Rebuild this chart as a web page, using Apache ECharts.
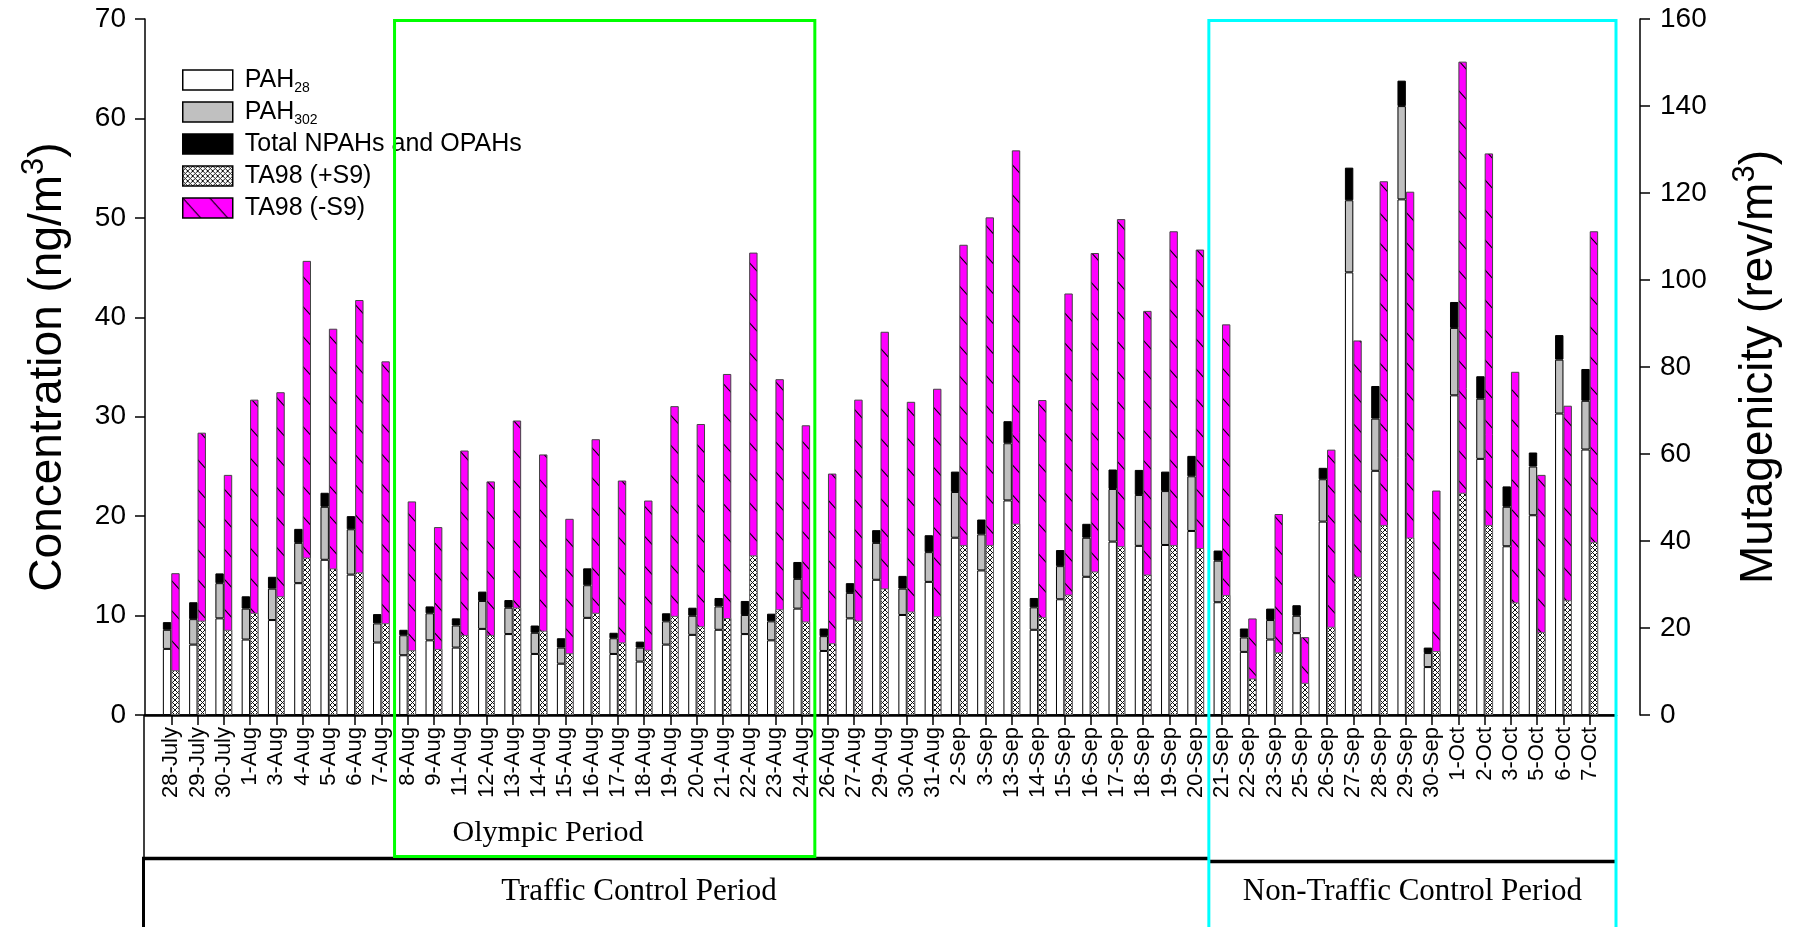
<!DOCTYPE html>
<html>
<head>
<meta charset="utf-8">
<script src="https://cdn.jsdelivr.net/npm/echarts/dist/echarts.min.js"></script>
<style>
  html, body { margin: 0; padding: 0; background: #ffffff; }
  #chart { width: 1796px; height: 927px; }
</style>
</head>
<body>
<div id="chart"></div>
<script>
// Sampling dates (Beijing, 2008)
const categories = [
  '28-July','29-July','30-July','1-Aug','3-Aug','4-Aug','5-Aug','6-Aug','7-Aug',
  '8-Aug','9-Aug','11-Aug','12-Aug','13-Aug','14-Aug','15-Aug','16-Aug','17-Aug','18-Aug',
  '19-Aug','20-Aug','21-Aug','22-Aug','23-Aug','24-Aug',
  '26-Aug','27-Aug','29-Aug','30-Aug','31-Aug','2-Sep','3-Sep','13-Sep','14-Sep','15-Sep',
  '16-Sep','17-Sep','18-Sep','19-Sep','20-Sep',
  '21-Sep','22-Sep','23-Sep','25-Sep','26-Sep','27-Sep','28-Sep','29-Sep','30-Sep',
  '1-Oct','2-Oct','3-Oct','5-Oct','6-Oct','7-Oct'
];

// Concentrations, ng/m3 (stacked)
const pah28 = [
  6.65, 7.08, 9.72, 7.59, 9.55, 13.26, 15.61, 14.12, 7.29,
  6.01, 7.51, 6.78, 8.66, 8.14, 6.14, 5.16, 9.77, 6.14, 5.37, 7.08, 8.06, 8.57, 8.14, 7.51, 10.70,
  6.44, 9.72, 13.60, 10.06, 13.39, 17.83, 14.54, 21.58, 8.57, 11.64, 13.90, 17.44, 17.01, 17.10, 18.51,
  11.34, 6.35, 7.59, 8.23, 19.45, 44.52, 24.56, 51.86, 4.82, 32.15, 25.76, 16.97, 20.09, 30.32, 26.70
];
const pah302 = [
  1.92, 2.56, 3.54, 3.11, 3.16, 4.05, 5.33, 4.56, 1.92,
  2.01, 2.72, 2.22, 2.81, 2.65, 2.13, 1.62, 3.28, 1.58, 1.41, 2.34, 1.92, 2.35, 1.92, 1.91, 2.99,
  1.49, 2.56, 3.71, 2.65, 2.99, 4.60, 3.63, 5.75, 2.26, 3.33, 3.93, 5.29, 5.12, 5.42, 5.50,
  4.18, 1.45, 1.96, 1.75, 4.26, 7.25, 5.25, 9.38, 1.41, 6.78, 6.05, 3.97, 4.90, 5.42, 4.90
];
const npahOpah = [
  0.77, 1.70, 0.98, 1.24, 1.19, 1.41, 1.41, 1.32, 0.94,
  0.55, 0.69, 0.72, 0.94, 0.77, 0.73, 0.94, 1.70, 0.55, 0.60, 0.81, 0.81, 0.85, 1.41, 0.77, 1.70,
  0.77, 0.98, 1.28, 1.28, 1.70, 2.05, 1.49, 2.22, 0.94, 1.62, 1.40, 1.96, 2.52, 1.96, 2.05,
  1.02, 0.90, 1.15, 1.06, 1.15, 3.28, 3.28, 2.56, 0.55, 2.61, 2.26, 2.05, 1.41, 2.47, 3.20
];

// Mutagenicity, rev/m3
const ta98Plus = [
  10.3, 21.7, 19.6, 23.5, 27.3, 36.2, 33.7, 32.8, 21.1,
  14.9, 15.2, 18.4, 18.4, 24.7, 19.4, 14.2, 23.5, 16.7, 15.0, 22.8, 20.4, 22.3, 36.7, 24.3, 21.5,
  16.5, 21.7, 29.1, 23.8, 22.7, 39.1, 39.1, 44.0, 22.5, 27.7, 33.0, 38.8, 32.3, 39.1, 38.4,
  27.6, 8.4, 14.4, 7.4, 20.3, 31.8, 43.7, 40.8, 14.7, 51.1, 43.7, 25.9, 19.1, 26.4, 39.8
];
const ta98Minus = [
  32.6, 64.9, 55.2, 72.5, 74.2, 104.4, 88.8, 95.4, 81.3,
  49.1, 43.2, 60.8, 53.7, 67.7, 59.9, 45.1, 63.4, 53.9, 49.3, 71.0, 66.9, 78.4, 106.3, 77.2, 66.6,
  55.5, 72.5, 88.1, 72.0, 75.0, 108.1, 114.4, 129.8, 72.4, 96.9, 106.2, 114.0, 92.9, 111.2, 107.0,
  89.8, 22.2, 46.2, 17.9, 61.0, 86.1, 122.7, 120.3, 51.6, 150.2, 129.1, 78.9, 55.2, 71.1, 111.2
];

// Axis tick values
const concTicks = [0, 10, 20, 30, 40, 50, 60, 70];
const mutTicks = [0, 20, 40, 60, 80, 100, 120, 140, 160];

// Period annotations
const olympicPeriod = { label: 'Olympic Period', first: '8-Aug', last: '24-Aug' };
const trafficPeriod = { label: 'Traffic Control Period', first: '28-July', last: '20-Sep' };
const nonTrafficPeriod = { label: 'Non-Traffic Control Period', first: '21-Sep', last: '7-Oct' };

// Padded category list: one empty slot at each end of the axis
const axisCats = [''].concat(categories, [' ']);
const pairs = arr => categories.map((c, i) => [c, arr[i]]);

const SANS = '"Liberation Sans", Arial, sans-serif';
const SERIF = '"Liberation Serif", "Times New Roman", serif';
const BAR_W = 8.4;

function slashFill() {
  const w = 27, h = 30;
  const c = document.createElement('canvas');
  c.width = w; c.height = h;
  const g = c.getContext('2d');
  g.fillStyle = '#FF00FF';
  g.fillRect(0, 0, w, h);
  g.strokeStyle = '#000';
  g.lineWidth = 1.1;
  for (const dx of [-w, 0, w]) {
    g.beginPath();
    g.moveTo(dx - 3, -3 * h / w);
    g.lineTo(dx + w + 3, h + 3 * h / w);
    g.stroke();
  }
  return c;
}

function crossFill() {
  const s = 5;
  const c = document.createElement('canvas');
  c.width = s; c.height = s;
  const g = c.getContext('2d');
  g.fillStyle = '#ffffff';
  g.fillRect(0, 0, s, s);
  g.strokeStyle = '#111';
  g.lineWidth = 1;
  g.beginPath();
  g.moveTo(-1, -1); g.lineTo(s + 1, s + 1);
  g.moveTo(s + 1, -1); g.lineTo(-1, s + 1);
  g.stroke();
  return c;
}

const minusPattern = { image: slashFill(), repeat: 'repeat' };
const plusPattern = { image: crossFill(), repeat: 'repeat' };

const legendNames = {
  'PAH28': 'PAH{s|28}',
  'PAH302': 'PAH{s|302}'
};

const chart = echarts.init(document.getElementById('chart'), null, { renderer: 'canvas' });

const concBar = (name, arr, color) => ({
  name, type: 'bar', xAxisIndex: 0, yAxisIndex: 0, stack: 'conc',
  barWidth: BAR_W, barGap: '0%',
  itemStyle: { color, borderColor: '#000', borderWidth: 1 },
  data: pairs(arr)
});
const slot = (xi, yi) => ({
  type: 'bar', xAxisIndex: xi, yAxisIndex: yi, barWidth: BAR_W, barGap: '0%', data: [], silent: true
});

const titleStyle = {
  fontFamily: SANS, fontSize: 46, color: '#000', lineHeight: 58,
  rich: { sup: { fontFamily: SANS, fontSize: 31, lineHeight: 31, verticalAlign: 'top', color: '#000' } }
};

const option = {
  animation: false,
  backgroundColor: '#ffffff',
  grid: { left: 145, right: 180, top: 19, bottom: 212, containLabel: false },
  legend: {
    left: 182, top: 65, orient: 'vertical', padding: 0,
    itemWidth: 50, itemHeight: 20, itemGap: 2, icon: 'rect',
    selectedMode: false,
    data: ['PAH28', 'PAH302', 'Total NPAHs and OPAHs', 'TA98 (+S9)', 'TA98 (-S9)'],
    formatter: n => legendNames[n] || n,
    textStyle: {
      fontFamily: SANS, fontSize: 25, color: '#000', lineHeight: 30, padding: [0, 0, 0, 7],
      rich: { s: { fontFamily: SANS, fontSize: 14, lineHeight: 14, verticalAlign: 'bottom', color: '#000' } }
    },
    itemStyle: { borderColor: '#000', borderWidth: 1.5 }
  },
  xAxis: [
    {
      type: 'category', data: axisCats, boundaryGap: false, position: 'bottom',
      axisLine: { lineStyle: { color: '#000', width: 2.5 } },
      axisTick: { show: true, length: 10, inside: false, interval: (i, v) => v.trim() !== '', lineStyle: { color: '#000', width: 1.5 } },
      axisLabel: { interval: 0, rotate: 90, margin: 12, fontFamily: SANS, fontSize: 22, color: '#000' },
      splitLine: { show: false }
    },
    {
      type: 'category', data: axisCats, boundaryGap: false, position: 'top',
      axisLine: { show: true, lineStyle: { color: '#000', width: 1.5 } },
      axisTick: { show: false }, axisLabel: { show: false }, splitLine: { show: false }
    },
    {
      type: 'category', data: axisCats, boundaryGap: false, show: false
    }
  ],
  yAxis: [
    {
      type: 'value', position: 'left',
      min: concTicks[0], max: concTicks[concTicks.length - 1], interval: concTicks[1] - concTicks[0],
      axisLine: { show: true, lineStyle: { color: '#000', width: 1.5 } },
      axisTick: { show: true, length: 10, lineStyle: { color: '#000', width: 1.5 } },
      axisLabel: { fontFamily: SANS, fontSize: 28, color: '#000', margin: 19 },
      splitLine: { show: false },
      name: 'Concentration (ng/m{sup|3})', nameLocation: 'middle', nameRotate: 90, nameGap: 68,
      nameTextStyle: titleStyle
    },
    {
      type: 'value', position: 'right', offset: 24,
      min: mutTicks[0], max: mutTicks[mutTicks.length - 1], interval: mutTicks[1] - mutTicks[0],
      axisLine: { show: true, lineStyle: { color: '#000', width: 1.5 } },
      axisTick: { show: true, length: 10, lineStyle: { color: '#000', width: 1.5 } },
      axisLabel: { fontFamily: SANS, fontSize: 28, color: '#000', margin: 20 },
      splitLine: { show: false },
      name: 'Mutagenicity (rev/m{sup|3})', nameLocation: 'middle', nameRotate: 90, nameGap: 90,
      nameTextStyle: titleStyle
    }
  ],
  series: [
    concBar('PAH28', pah28, '#ffffff'),
    concBar('PAH302', pah302, '#c0c0c0'),
    concBar('Total NPAHs and OPAHs', npahOpah, '#000000'),
    slot(0, 0),
    slot(1, 1),
    {
      name: 'TA98 (-S9)', type: 'bar', xAxisIndex: 1, yAxisIndex: 1,
      barWidth: BAR_W, barGap: '0%',
      itemStyle: { color: minusPattern, borderColor: '#444', borderWidth: 1 },
      data: pairs(ta98Minus)
    },
    slot(2, 1),
    {
      name: 'TA98 (+S9)', type: 'bar', xAxisIndex: 2, yAxisIndex: 1,
      barWidth: BAR_W, barGap: '0%',
      itemStyle: { color: plusPattern, borderColor: '#666', borderWidth: 1 },
      data: pairs(ta98Plus)
    }
  ]
};

chart.setOption(option);

// Period boxes, placed from the category axis positions
const px = idx => chart.convertToPixel({ xAxisIndex: 0 }, idx);
const before = name => { const i = axisCats.indexOf(name); return (px(i - 1) + px(i)) / 2; };
const after = name => { const i = axisCats.indexOf(name); return (px(i) + px(i + 1)) / 2; };

const gridL = px(0);
const gridR = px(axisCats.length - 1);
const yTop = chart.convertToPixel({ yAxisIndex: 0 }, concTicks[concTicks.length - 1]);
const yBase = chart.convertToPixel({ yAxisIndex: 0 }, 0);

const olyL = before(olympicPeriod.first);
const olyR = after(olympicPeriod.last);
const ntL = before(nonTrafficPeriod.first);
const bandTop = 858.5;

chart.setOption({
  graphic: [
    { type: 'line', z: 90, shape: { x1: gridL - 1, y1: yBase, x2: gridL - 1, y2: 927 }, style: { stroke: '#000', lineWidth: 1.5 } },
    { type: 'line', z: 90, shape: { x1: gridL - 1.5, y1: bandTop, x2: gridL - 1.5, y2: 927 }, style: { stroke: '#000', lineWidth: 3 } },
    { type: 'line', z: 90, shape: { x1: gridL - 3, y1: bandTop, x2: ntL, y2: bandTop }, style: { stroke: '#000', lineWidth: 3.5 } },
    { type: 'line', z: 90, shape: { x1: ntL, y1: bandTop + 3, x2: gridR, y2: bandTop + 3 }, style: { stroke: '#000', lineWidth: 3.5 } },
    { type: 'rect', z: 100, shape: { x: olyL, y: yTop + 1.5, width: olyR - olyL, height: bandTop - 2 - yTop - 1.5 },
      style: { fill: 'none', stroke: '#00ff00', lineWidth: 3 } },
    { type: 'rect', z: 100, shape: { x: ntL, y: yTop + 1.5, width: gridR - ntL, height: 960 },
      style: { fill: 'none', stroke: '#00ffff', lineWidth: 3 } },
    { type: 'text', z: 100, x: 548, y: 833,
      style: { text: olympicPeriod.label, font: '30px ' + SERIF, fill: '#000', align: 'center', verticalAlign: 'middle' } },
    { type: 'text', z: 100, x: (gridL + ntL) / 2 - 38, y: 892,
      style: { text: trafficPeriod.label, font: '31px ' + SERIF, fill: '#000', align: 'center', verticalAlign: 'middle' } },
    { type: 'text', z: 100, x: (ntL + gridR) / 2, y: 892,
      style: { text: nonTrafficPeriod.label, font: '31px ' + SERIF, fill: '#000', align: 'center', verticalAlign: 'middle' } }
  ]
});
</script>
</body>
</html>
